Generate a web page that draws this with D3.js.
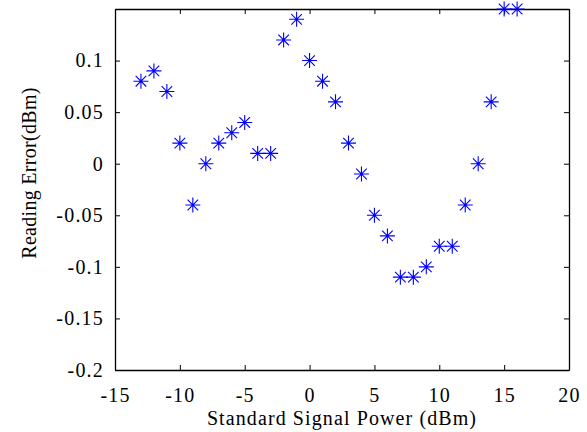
<!DOCTYPE html>
<html>
<head>
<meta charset="utf-8">
<script src="https://cdn.jsdelivr.net/npm/d3@7"></script>
<style>
  body { margin: 0; background: #fff; }
  text { font-family: "Liberation Serif", "Times New Roman", serif; }
</style>
</head>
<body>
<div id="container"></div>
<script>
const w = 587;
const h = 432;
const p = {top: 9, right: 18, bottom: 62, left: 115};

// standard signal power (dBm) and reading error (dBm)
const power = [-13, -12, -11, -10, -9, -8, -7, -6, -5, -4, -3, -2, -1, 0, 1,
               2, 3, 4, 5, 6, 7, 8, 9, 10, 11, 12, 13, 14, 15, 16];
const readingError = [0.08, 0.09, 0.07, 0.02, -0.04, 0, 0.02, 0.03, 0.04, 0.01,
                      0.01, 0.12, 0.14, 0.10, 0.08, 0.06, 0.02, -0.01, -0.05, -0.07,
                      -0.11, -0.11, -0.10, -0.08, -0.08, -0.04, 0, 0.06, 0.15, 0.15];
const xTicks = [-15, -10, -5, 0, 5, 10, 15, 20];
const yTicks = [-0.2, -0.15, -0.1, -0.05, 0, 0.05, 0.1];

const data = power.map((d, i) => ({x: d, y: readingError[i]}));

const svg = d3.select('#container')
  .append('svg')
  .attr('width', w)
  .attr('height', h);

const x = d3.scaleLinear()
  .domain([-15, 20])
  .range([p.left, w - p.right]);
const y = d3.scaleLinear()
  .domain([-0.2, 0.15])
  .range([h - p.bottom, p.top]);

// plain hyphen minus like the original
const fmt = d => String(+d.toFixed(2));

const styleAxis = g => {
  g.attr('font-family', null).attr('font-size', null);
  g.select('.domain').attr('stroke', '#000').attr('stroke-width', 1.3);
  g.selectAll('.tick line').attr('stroke', '#000');
  g.selectAll('.tick text')
    .attr('fill', '#000')
    .style('font-family', '"Liberation Serif", "Times New Roman", serif')
    .style('font-size', '20px')
    .style('letter-spacing', '1.2px');
};

svg.append('g')
  .attr('transform', 'translate(0,' + (h - p.bottom) + ')')
  .call(d3.axisBottom(x).tickValues(xTicks).tickFormat(fmt)
    .tickSizeInner(-5).tickSizeOuter(0).tickPadding(18))
  .call(styleAxis);
svg.append('g')
  .attr('transform', 'translate(0,' + p.top + ')')
  .call(d3.axisTop(x).tickValues(xTicks).tickFormat('')
    .tickSizeInner(-5).tickSizeOuter(0))
  .call(styleAxis);
svg.append('g')
  .attr('transform', 'translate(' + p.left + ',0)')
  .call(d3.axisLeft(y).tickValues(yTicks).tickFormat(fmt)
    .tickSizeInner(-5).tickSizeOuter(0).tickPadding(11))
  .call(styleAxis);
svg.append('g')
  .attr('transform', 'translate(' + (w - p.right) + ',0)')
  .call(d3.axisRight(y).tickValues(yTicks).tickFormat('')
    .tickSizeInner(-5).tickSizeOuter(0))
  .call(styleAxis);

// matlab style '*' marker: plus and cross
const star = {
  draw(ctx, size) {
    const r = 7.5;
    const s = 5.3;
    ctx.moveTo(-r, 0); ctx.lineTo(r, 0);
    ctx.moveTo(0, -r); ctx.lineTo(0, r);
    ctx.moveTo(-s, -s); ctx.lineTo(s, s);
    ctx.moveTo(-s, s); ctx.lineTo(s, -s);
  }
};

svg.append('g')
  .selectAll('path')
  .data(data)
  .enter()
  .append('path')
  .attr('transform', d => 'translate(' + x(d.x) + ',' + y(d.y) + ')')
  .attr('d', d3.symbol().type(star))
  .attr('fill', 'none')
  .attr('stroke', '#0000ff')
  .attr('stroke-width', 1.1);

svg.append('text')
  .attr('x', (p.left + w - p.right) / 2)
  .attr('y', 425)
  .attr('text-anchor', 'middle')
  .style('font-size', '20px')
  .style('letter-spacing', '1.1px')
  .text('Standard Signal Power (dBm)');

svg.append('text')
  .attr('transform', 'translate(36,173) rotate(-90)')
  .attr('text-anchor', 'middle')
  .style('font-size', '20px')
  .style('letter-spacing', '0.3px')
  .text('Reading Error(dBm)');
</script>
</body>
</html>
